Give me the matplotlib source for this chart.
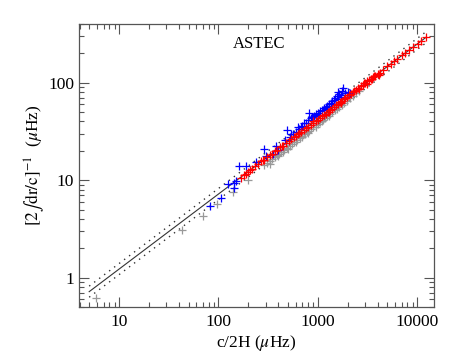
import matplotlib
matplotlib.use("Agg")
import matplotlib.pyplot as plt
import numpy as np
from matplotlib.ticker import FixedLocator, FuncFormatter, LogLocator, NullFormatter

# ---- data ----
red_x = [170, 180, 190, 200, 210, 220, 235, 250, 270, 290, 310, 330, 350, 370, 390, 420, 450, 480,
         510, 540, 570, 600, 640, 680, 720, 760, 800, 850, 900, 950, 1000, 1050, 1100, 1150, 1200,
         1260, 1320, 1380, 1450, 1520, 1600, 1680, 1760, 1850, 1950, 2050, 2150, 2250, 2400, 2550,
         2700, 2850, 3000, 3150, 3300, 3450, 3600, 3800, 4000, 4200, 2600, 3100, 3500, 1700, 1300,
         900, 650, 440, 280, 1900, 2300, 2900, 3700, 4100, 4500, 5000, 5400, 5900, 6300, 7100, 7600,
         8300, 9200, 10200, 11000, 12300]
red_y = [10.6, 11.2, 11.5, 12.0, 12.8, 13.1, 13.9, 14.5, 15.6, 16.2, 17.3, 18.0, 18.6, 19.8, 20.5,
         21.8, 22.6, 24.2, 25.0, 26.3, 27.4, 28.2, 29.8, 31.0, 32.6, 34.0, 35.2, 37.0, 38.5, 40.5,
         41.8, 43.6, 45.1, 46.8, 48.0, 50.2, 52.0, 54.3, 56.2, 58.6, 60.5, 63.2, 65.5, 68.3, 71.0,
         74.0, 77.2, 80.0, 83.5, 88.0, 91.5, 95.3, 99.0, 103, 106, 110, 114, 118, 124, 126, 86, 97,
         108, 62, 50.5, 40.0, 30.5, 22.4, 16.0, 69, 82, 100, 117, 121, 135, 148, 155, 167, 176, 192,
         202, 217, 233, 252, 266, 292]

blue_x = [82.5, 106, 126, 142, 145, 150, 163, 190, 240, 290, 300, 358, 381, 400, 463, 495, 520, 560,
          600, 630, 650, 700, 720, 760, 800, 824, 850, 880, 920, 960, 1000, 1050, 1100, 1150, 1200,
          1250, 1300, 1350, 1400, 1450, 1500, 1550, 1616, 1650, 1700, 1813, 1750, 1900, 2000, 2100,
          1600, 1200, 1000, 900, 540, 680, 1400, 1700]
blue_y = [5.4, 6.6, 9.1, 8.4, 9.4, 9.7, 14.1, 14.1, 15.3, 20.9, 17.5, 18.5, 22.6, 20.5, 25.9, 32.8,
          27.5, 29.5, 31.5, 34.9, 33.5, 36.0, 38.5, 39.0, 41.0, 48.6, 43.0, 44.5, 46.0, 47.5, 49.0,
          51.0, 53.0, 54.5, 56.5, 58.0, 60.0, 62.0, 64.5, 66.0, 70.0, 73.0, 80.9, 76.0, 75.0, 87.7,
          82.0, 78.0, 80.5, 79.0, 68.0, 54.0, 46.5, 44.0, 30.0, 35.0, 60.5, 71.0]

grey_x = [5.87, 42.8, 70.6, 97.7, 140, 200, 290, 310, 330, 350, 370, 390, 410, 430, 460, 490, 520,
          550, 580, 620, 660, 700, 740, 780, 820, 860, 900, 950, 1000, 1060, 1120, 1180, 1250, 1320,
          1400, 1480, 1560, 1650, 1750, 1850, 1950, 2100, 2250, 2400, 2600, 400, 500, 600, 800, 1100,
          1300, 330, 450, 700, 950]
grey_y = [0.62, 3.09, 4.3, 5.7, 7.5, 10.0, 14.4, 15.0, 15.6, 16.6, 17.2, 18.0, 18.7, 19.6, 20.5,
          21.5, 22.5, 23.4, 24.6, 25.8, 27.2, 28.5, 29.8, 31.0, 32.0, 33.5, 34.7, 36.5, 37.8, 39.8,
          41.5, 43.3, 45.0, 47.5, 49.6, 52.0, 54.0, 56.8, 59.5, 62.5, 65.0, 69.0, 73.5, 77.5, 83.0,
          17.5, 20.8, 24.8, 30.5, 40.0, 46.0, 14.8, 19.5, 27.5, 35.0]

# fitted power-law line end points and the dotted band factor
fit_x = [5.0, 12300.0]
fit_y = [0.718, 292.0]
band = 1.14

x_ticks = [10, 100, 1000, 10000]
y_ticks = [1, 10, 100]

plt.rcParams['mathtext.fontset'] = 'stix'
plt.rcParams['font.family'] = ['Liberation Serif', 'DejaVu Serif']

fig = plt.figure(figsize=(4.58, 3.58), dpi=100)
ax = fig.add_axes([0.1725, 0.1425, 0.7751, 0.7905])

frame = '#555555'
ax.plot(fit_x, fit_y, color='#333333', lw=0.8)
ax.plot(fit_x, [v * band for v in fit_y], color='#333333', lw=1.0, ls=(0, (1, 3.5)))
ax.plot(fit_x, [v / band for v in fit_y], color='#333333', lw=1.0, ls=(0, (1, 3.5)))

ms = 5.5
ax.plot(grey_x, grey_y, ls='none', marker='+', color='#999999', ms=ms, mew=0.9)
ax.plot(blue_x, blue_y, ls='none', marker='+', color='#0000ff', ms=ms, mew=0.9)
ax.plot(red_x, red_y, ls='none', marker='+', color='#ff0000', ms=ms, mew=0.9)

ax.set_xscale('log')
ax.set_yscale('log')
ax.set_xlim(3.95, 14800)
ax.set_ylim(0.5, 400)

ax.xaxis.set_major_locator(FixedLocator(x_ticks))
ax.yaxis.set_major_locator(FixedLocator(y_ticks))
ax.xaxis.set_minor_locator(LogLocator(base=10, subs=np.arange(2, 10)))
ax.yaxis.set_minor_locator(LogLocator(base=10, subs=np.arange(2, 10)))
ax.xaxis.set_minor_formatter(NullFormatter())
ax.yaxis.set_minor_formatter(NullFormatter())
fmt = FuncFormatter(lambda v, p: '%d' % round(v))
ax.xaxis.set_major_formatter(fmt)
ax.yaxis.set_major_formatter(fmt)

ax.tick_params(which='both', direction='in', top=True, right=True, color=frame,
               labelsize=12.5)
ax.tick_params(axis='x', pad=5)
ax.tick_params(axis='y', pad=3.5)
ax.tick_params(which='major', length=7, width=0.8)
ax.tick_params(which='minor', length=3.5, width=0.8)
for s in ax.spines.values():
    s.set_color(frame)
    s.set_linewidth(0.9)

ax.text(0.507, 0.929, 'ASTEC', transform=ax.transAxes, ha='center', va='center', fontsize=12)
ax.set_xlabel(r'c/2H ($\mu$Hz)', fontsize=12.5, labelpad=2)
ax.set_ylabel(r'$[2\int\mathrm{dr/c}]^{-1}$  ($\mu$Hz)', fontsize=12.5, labelpad=1)

fig.savefig('out.png', dpi=100)
